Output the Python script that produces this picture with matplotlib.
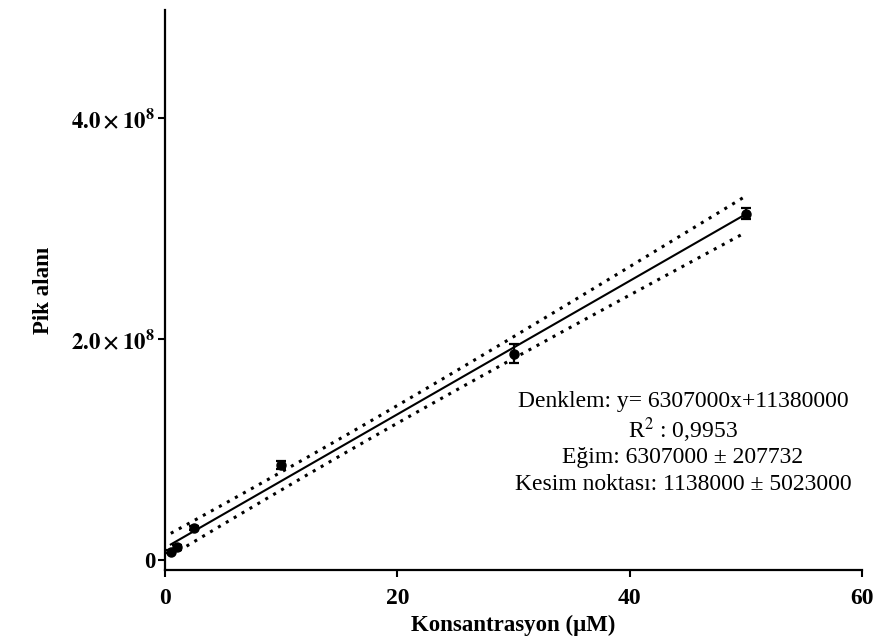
import numpy as np
import matplotlib
matplotlib.use("Agg")
import matplotlib.pyplot as plt

plt.rcParams['font.family'] = ['Liberation Serif', 'DejaVu Serif']
plt.rcParams['mathtext.fontset'] = 'stix'

# Data
conc = [0.5, 1.0, 2.5, 10.0, 30.0, 50.0]
area = [7.5e6, 1.15e7, 2.9e7, 8.6e7, 1.87e8, 3.135e8]
area_sd = [1.5e6, 2.0e6, 2.0e6, 4.0e6, 9.0e6, 5.0e6]
x_ticks = [0, 20, 40, 60]
y_ticks = [0, 2.0e8, 4.0e8]
y_ticklabels = ['0', r'$\mathbf{2.0\times10^{8}}$', r'$\mathbf{4.0\times10^{8}}$']
ann_lines = ["Denklem: y= 6307000x+11380000",
             r"R$^2$ : 0,9953",
             "Eğim: 6307000 ± 207732",
             "Kesim noktası: 1138000 ± 5023000"]

x = np.array(conc)
y = np.array(area)
slope, icpt = np.polyfit(x, y, 1)
n = len(x)
resid = y - (slope * x + icpt)
s = np.sqrt(np.sum(resid ** 2) / (n - 2))
xm = x.mean()
sxx = np.sum((x - xm) ** 2)
t_val = 2.12
xf = np.linspace(x.min(), x.max(), 200)
yf = slope * xf + icpt
half = t_val * s * np.sqrt(1.0 / n + (xf - xm) ** 2 / sxx)

fig = plt.figure(figsize=(8.73, 6.40), dpi=100)
ax = fig.add_axes([165 / 873, 1 - 570 / 640, 697 / 873, 560 / 640])

ax.plot(xf, yf, color='black', lw=1.5)
ax.plot(xf, yf + half, color='black', lw=2.2, linestyle=(0, (1, 2)))
ax.plot(xf, yf - half, color='black', lw=2.2, linestyle=(0, (1, 2)))
ax.errorbar(x, y, yerr=area_sd, fmt='o', color='black', ms=6.5,
            capsize=3.5, elinewidth=1.6, capthick=1.6, zorder=5)

ax.set_xlim(0, 60)
ax.set_ylim(-9e6, 4.98e8)
ax.set_xticks(x_ticks)
ax.set_xticklabels([str(v) for v in x_ticks], fontweight='bold', fontsize=17)
ax.set_yticks(y_ticks)
ax.set_yticklabels(y_ticklabels, fontsize=16.5, fontweight='bold')

for side in ['top', 'right']:
    ax.spines[side].set_visible(False)
for side in ['left', 'bottom']:
    ax.spines[side].set_linewidth(1.6)
ax.tick_params(axis='x', direction='out', length=5, width=1.5, pad=8)
ax.tick_params(axis='y', direction='out', length=5, width=1.5, pad=2)

ax.set_xlabel("Konsantrasyon (μM)", fontsize=16.5, fontweight='bold', labelpad=4)
ax.set_ylabel("Pik alanı", fontsize=16.5, fontweight='bold', labelpad=12)

ys = [402, 430, 457, 485]
for line, yy in zip(ann_lines, ys):
    fig.text(683 / 873, 1 - yy / 640, line, ha='center', va='center', fontsize=17)

fig.savefig("out.png", dpi=100)
